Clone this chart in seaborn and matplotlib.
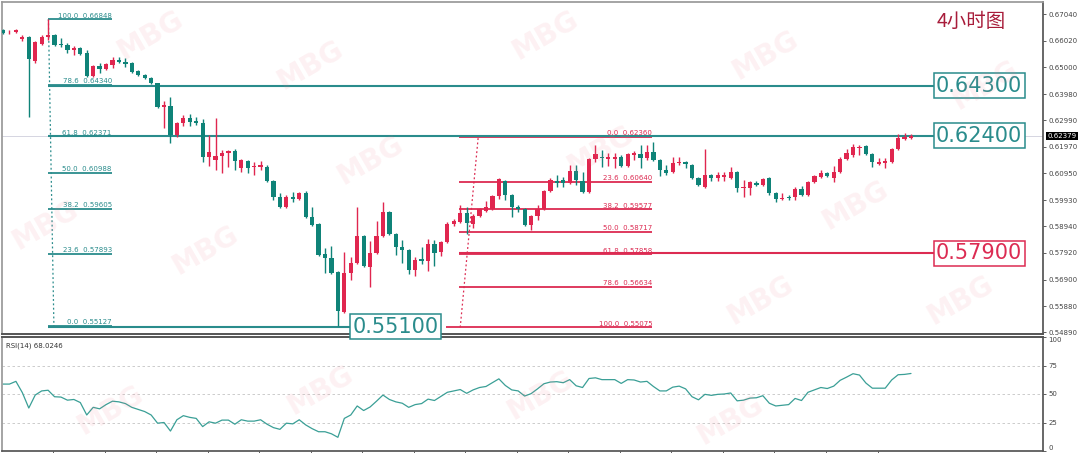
import numpy as np
import pandas as pd
import seaborn as sns
import matplotlib.pyplot as plt
from matplotlib.transforms import blended_transform_factory

# 4h candles (open / high / low / close)
opens = [
    .6643, .6634, .6636, .6609, .6617, .6525, .6590, .6617, .6624, .6590,
    .6586, .6567, .6575, .6556, .6468, .6506, .6494, .6510, .6529, .6521,
    .6517, .6487, .6472, .6460, .6441, .6349, .6353, .6242, .6288, .6307,
    .6296, .6288, .6158, .6147, .6162, .6174, .6181, .6116, .6143, .6120,
    .6120, .6120, .6067, .6005, .5967, .6005, .5998, .6021, .5929, .5902,
    .5788, .5772, .5719, .5566, .5715, .5753, .5857, .5738, .5792, .5857,
    .5948, .5864, .5815, .5803, .5727, .5769, .5761, .5826, .5795, .5834,
    .5902, .5910, .5944, .5902, .5933, .5952, .5960, .6009, .6067, .6013,
    .5967, .5960, .5899, .5933, .5960, .6028, .6067, .6070, .6059, .6105,
    .6067, .6025, .6151, .6158, .6151, .6151, .6158, .6124, .6166, .6170,
    .6154, .6177, .6147, .6109, .6101, .6135, .6139, .6128, .6078, .6044,
    .6090, .6078, .6082, .6078, .6101, .6040, .6040, .6059, .6051, .6078,
    .6021, .5998, .6005, .6005, .6036, .6013, .6063, .6082, .6097, .6078,
    .6101, .6151, .6166, .6193, .6200, .6170, .6132, .6135, .6139, .6189,
    .6227, .6231]
highs = [
    .6647, .6643, .6647, .6624, .6621, .6601, .6624, .6685, .6628, .6613,
    .6594, .6582, .6579, .6567, .6510, .6517, .6517, .6540, .6540, .6536,
    .6521, .6491, .6475, .6464, .6441, .6372, .6388, .6292, .6319, .6323,
    .6311, .6303, .6242, .6307, .6185, .6185, .6189, .6151, .6147, .6139,
    .6143, .6128, .6070, .6021, .6013, .6025, .6025, .6028, .5967, .5906,
    .5811, .5818, .5723, .5795, .5776, .5967, .5860, .5837, .5914, .5986,
    .5952, .5868, .5841, .5807, .5776, .5815, .5845, .5841, .5837, .5910,
    .5921, .5975, .5967, .5941, .5963, .5990, .6013, .6078, .6070, .6017,
    .5975, .5963, .5937, .5975, .6032, .6078, .6090, .6082, .6128, .6128,
    .6101, .6154, .6204, .6185, .6174, .6174, .6166, .6174, .6181, .6204,
    .6204, .6216, .6151, .6128, .6158, .6158, .6143, .6132, .6082, .6189,
    .6093, .6101, .6101, .6120, .6105, .6070, .6067, .6067, .6078, .6082,
    .6025, .6021, .6013, .6044, .6048, .6067, .6090, .6109, .6101, .6124,
    .6158, .6189, .6208, .6204, .6204, .6174, .6154, .6154, .6193, .6246,
    .6250, .6246]
lows = [
    .6628, .6628, .6632, .6601, .6311, .6517, .6586, .6605, .6582, .6579,
    .6556, .6548, .6548, .6464, .6464, .6479, .6491, .6498, .6517, .6502,
    .6479, .6468, .6456, .6437, .6345, .6269, .6212, .6235, .6277, .6277,
    .6281, .6139, .6124, .6109, .6097, .6120, .6109, .6101, .6097, .6090,
    .6109, .6063, .5994, .5963, .5963, .5986, .5994, .5925, .5895, .5780,
    .5715, .5713, .5513, .5562, .5688, .5750, .5738, .5662, .5788, .5853,
    .5860, .5784, .5753, .5711, .5704, .5750, .5723, .5742, .5780, .5830,
    .5895, .5906, .5864, .5887, .5929, .5948, .5956, .5998, .5994, .5929,
    .5948, .5895, .5879, .5918, .5956, .6025, .6044, .6044, .6055, .6051,
    .6021, .6021, .6139, .6120, .6124, .6116, .6120, .6120, .6147, .6116,
    .6147, .6143, .6086, .6090, .6097, .6128, .6116, .6074, .6048, .6040,
    .6067, .6067, .6067, .6074, .6025, .6005, .6013, .6048, .6048, .6013,
    .5986, .5994, .5994, .5994, .6009, .6009, .6059, .6078, .6082, .6063,
    .6097, .6147, .6158, .6166, .6166, .6120, .6128, .6116, .6135, .6185,
    .6223, .6227]
closes = [
    .6632, .6636, .6643, .6617, .6533, .6598, .6617, .6624, .6586, .6586,
    .6567, .6575, .6552, .6468, .6506, .6494, .6514, .6529, .6521, .6514,
    .6483, .6472, .6460, .6441, .6349, .6357, .6242, .6288, .6307, .6292,
    .6288, .6158, .6177, .6162, .6174, .6181, .6143, .6147, .6116, .6124,
    .6128, .6067, .6005, .5967, .6005, .5998, .6021, .5929, .5899, .5784,
    .5772, .5715, .5570, .5715, .5753, .5857, .5742, .5792, .5857, .5948,
    .5864, .5815, .5803, .5727, .5765, .5761, .5826, .5792, .5834, .5902,
    .5914, .5944, .5906, .5933, .5960, .5967, .6009, .6074, .6013, .5967,
    .5960, .5899, .5933, .5960, .6028, .6070, .6059, .6059, .6105, .6070,
    .6025, .6151, .6170, .6154, .6158, .6158, .6124, .6170, .6174, .6154,
    .6177, .6147, .6109, .6097, .6135, .6139, .6132, .6078, .6051, .6090,
    .6078, .6090, .6090, .6101, .6040, .6044, .6063, .6051, .6074, .6021,
    .5998, .6002, .6002, .6036, .6013, .6063, .6086, .6097, .6086, .6101,
    .6151, .6174, .6197, .6197, .6170, .6139, .6139, .6143, .6189, .6231,
    .6235, .6238]

rsi_values = [
    58.7, 58.7, 61.1, 51.2, 37.7, 49.1, 52.7, 53.3, 47.6, 47.3,
    44.6, 45.2, 42.5, 31.6, 38.3, 37.0, 40.7, 43.7, 43.1, 41.6,
    38.3, 36.4, 34.6, 31.6, 24.4, 25.0, 17.5, 27.4, 31.0, 29.5,
    28.6, 21.4, 25.6, 24.4, 27.1, 27.1, 23.5, 27.4, 26.2, 26.2,
    27.4, 23.5, 20.5, 19.0, 24.4, 23.8, 27.4, 22.9, 19.6, 16.9,
    16.9, 15.1, 12.0, 28.6, 31.6, 39.5, 35.5, 38.6, 43.7, 49.1,
    45.2, 43.1, 41.9, 38.3, 40.7, 41.6, 45.5, 44.3, 47.9, 51.5,
    52.7, 53.9, 50.6, 53.6, 55.7, 56.6, 59.9, 63.3, 57.5, 53.6,
    52.7, 48.2, 50.3, 54.5, 59.0, 60.5, 60.8, 59.9, 62.6, 57.2,
    55.7, 63.6, 64.2, 62.6, 62.6, 62.6, 59.3, 62.6, 62.3, 60.5,
    61.1, 56.6, 52.7, 52.7, 56.0, 56.9, 54.5, 47.6, 44.9, 49.7,
    48.8, 49.7, 50.0, 50.9, 44.0, 44.6, 46.4, 46.7, 48.5, 41.9,
    39.5, 40.1, 40.7, 46.1, 44.3, 51.5, 53.6, 55.7, 54.8, 56.9,
    62.0, 64.8, 67.8, 66.6, 59.6, 55.1, 55.1, 55.1, 62.3, 66.9,
    67.2, 68.0]

price_ticks = [0.67040, 0.66020, 0.65000, 0.63980, 0.62990, 0.61970, 0.60950,
               0.59930, 0.58940, 0.57920, 0.56900, 0.55880, 0.54890]
rsi_ticks = [0, 25, 50, 75, 100]

left_fib_pct = ['100.0', '78.6', '61.8', '50.0', '38.2', '23.6', '0.0']
left_fib_price = [0.66848, 0.64340, 0.62371, 0.60988, 0.59605, 0.57893, 0.55127]
right_fib_pct = ['0.0', '23.6', '38.2', '50.0', '61.8', '78.6', '100.0']
right_fib_price = [0.62360, 0.60640, 0.59577, 0.58717, 0.57858, 0.56634, 0.55075]

levels = [0.64300, 0.62400, 0.57900, 0.55100]
current_price = 0.62379
rsi_label = 'RSI(14) 68.0246'
title = '4小时图'

TEAL = '#0f8378'
RED = '#e0264f'
FIB_TEAL = '#2a8c8c'
FIB_RED = '#dc2b52'

sns.set_theme(style='white')
plt.rcParams['font.family'] = ['DejaVu Sans', 'Noto Sans CJK SC']

W, H = 1080, 453
fig = plt.figure(figsize=(W / 100, H / 100), dpi=100)


def px_box(l, t, r, b):
    return [l / W, 1 - b / H, (r - l) / W, (b - t) / H]


ax = fig.add_axes(px_box(2, 2, 1043, 334))
ax_r = fig.add_axes(px_box(2, 337, 1043, 451))
ax.set_zorder(3)

df = pd.DataFrame({'open': opens, 'high': highs, 'low': lows, 'close': closes})
df['idx'] = np.arange(len(df))
colors = np.where(df['close'] >= df['open'], RED, TEAL)

# candles
ax.vlines(df['idx'], df['low'], df['high'], colors=colors, lw=1, zorder=4)
body_lo = np.minimum(df['open'], df['close'])
body_h = np.maximum((df['close'] - df['open']).abs(), 0.00018)
ax.bar(df['idx'], body_h, bottom=body_lo, width=0.66, color=colors, lw=0, zorder=5)

ax.axhline(current_price, color='#cfcfdc', lw=0.6, zorder=1)

# left fibonacci (teal)
ax.hlines(left_fib_price, 7.0, 16.9, color=FIB_TEAL, lw=1.3, zorder=3)
for pct, p in zip(left_fib_pct, left_fib_price):
    ax.text(16.9, p + 0.0002, f'{pct}  {p:.5f}', ha='right', va='bottom',
            fontsize=5, color=FIB_TEAL, zorder=6)
ax.plot([7.05, 7.9], [left_fib_price[0], left_fib_price[-1]], ls=(0, (1.5, 2)),
        color=FIB_TEAL, lw=0.9, zorder=3)

# right fibonacci (red)
ax.hlines(right_fib_price[:-1], 70.8, 100.8, color=FIB_RED, lw=1.3, zorder=3)
ax.hlines(right_fib_price[-1], 68.8, 100.8, color=FIB_RED, lw=1.3, zorder=3)
for pct, p in zip(right_fib_pct, right_fib_price):
    ax.text(100.8, p + 0.0002, f'{pct}  {p:.5f}', ha='right', va='bottom',
            fontsize=5, color=FIB_RED, zorder=6)
ax.plot([71.0, 73.8], [right_fib_price[-1], right_fib_price[0]], ls=(0, (1.5, 2)),
        color=FIB_RED, lw=0.9, zorder=3)

# key levels with boxed labels
level_style = [(7.0, 144.9, FIB_TEAL), (7.0, 144.9, FIB_TEAL),
               (70.8, 144.9, FIB_RED), (7.0, 54.3, FIB_TEAL)]
for lv, (x0, x1, c) in zip(levels, level_style):
    ax.hlines(lv, x0, x1, color=c, lw=1.5, zorder=3)
    ax.text(x1, lv, f'{lv:.5f}', ha='left', va='center', fontsize=15, color=c,
            bbox=dict(boxstyle='square,pad=0.12', fc='white', ec=c, lw=1.1),
            clip_on=False, zorder=8)

ax.set_xlim(-0.16, 161.5)
ax.set_ylim(0.5482, 0.6750)
ax.set_xticks([])
ax.yaxis.tick_right()
ax.set_yticks(price_ticks)
ax.set_yticklabels([f'{v:.5f}' for v in price_ticks])
ax.tick_params(axis='y', right=True, length=2.5, width=0.6, pad=1.5,
               labelsize=5, colors='#444444')
for s in ['left', 'top']:
    ax.spines[s].set_color('#999999')
ax.spines['right'].set_color('#555555')
ax.spines['bottom'].set_color('#555555')
ax.spines['bottom'].set_linewidth(1.4)

trans = blended_transform_factory(ax.transAxes, ax.transData)
ax.text(1.004, current_price, f'{current_price:.5f}', transform=trans, ha='left',
        va='center', fontsize=5, color='white', zorder=10, clip_on=False,
        bbox=dict(boxstyle='square,pad=0.2', fc='black', ec='none'))

fig.text(937 / W, 1 - 21 / H, title, fontsize=14, color='#a81c3a', va='center',
         ha='left', family=['Noto Sans CJK SC'])

# RSI panel
sns.lineplot(x=df['idx'], y=rsi_values, ax=ax_r, color='#3a9f96', lw=0.9)
for g in [25, 50, 75]:
    ax_r.axhline(g, color='#c4c4c4', lw=0.6, ls=(0, (3, 3)), zorder=0)
ax_r.set_xlim(-0.16, 161.5)
ax_r.set_ylim(0, 100)
ax_r.set_xlabel('')
ax_r.set_ylabel('')
ax_r.yaxis.tick_right()
ax_r.set_yticks(rsi_ticks)
ax_r.set_yticklabels([str(t) for t in rsi_ticks])
ax_r.tick_params(axis='y', right=True, length=2.5, width=0.6, pad=1.5,
                 labelsize=5, colors='#444444')
labs = ax_r.get_yticklabels()
labs[0].set_va('bottom')
labs[-1].set_va('top')
ax_r.set_xticks([8 * k - 0.2 for k in range(1, 18)])
ax_r.set_xticklabels([])
ax_r.tick_params(axis='x', bottom=True, length=3, width=0.6, colors='#444444')
for s in ['left', 'top']:
    ax_r.spines[s].set_color('#999999')
ax_r.spines['top'].set_color('#555555')
ax_r.spines['top'].set_linewidth(1.4)
ax_r.spines['right'].set_color('#555555')
ax_r.spines['bottom'].set_color('#555555')
ax_r.text(0.004, 0.95, rsi_label, transform=ax_r.transAxes, fontsize=5,
          color='#333333', va='top', ha='left')

# faint MBG watermarks
wm = [(150, 35), (310, 65), (545, 35), (765, 55), (985, 85),
      (45, 225), (205, 250), (370, 160), (600, 150), (855, 205),
      (110, 410), (320, 390), (540, 395), (760, 300), (960, 300), (730, 420)]
for x, y in wm:
    fig.text(x / W, 1 - y / H, 'MBG', fontsize=20, weight='bold', color='#f08090',
             alpha=0.11, rotation=30, ha='center', va='center', zorder=20)

fig.savefig('out.png', dpi=100)
